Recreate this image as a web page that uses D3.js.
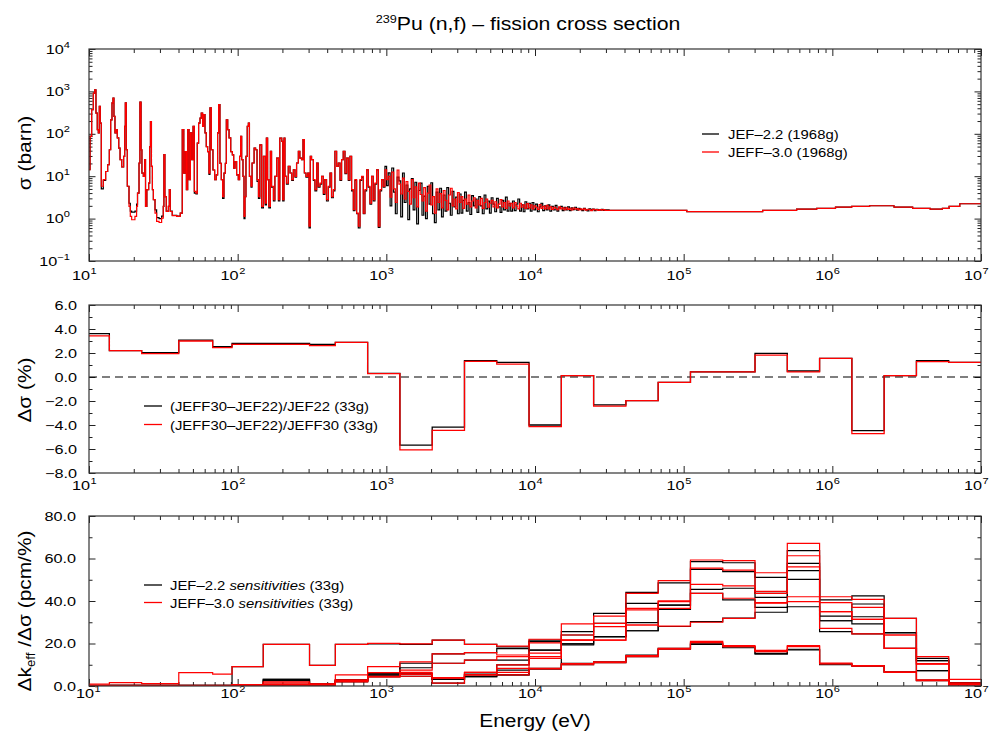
<!DOCTYPE html>
<html><head><meta charset="utf-8">
<script src="https://cdn.jsdelivr.net/npm/d3@7"></script>
<style>
body{margin:0;background:#fff}
svg{display:block}
text{font-family:"Liberation Sans",Arial,Helvetica,sans-serif;fill:#000}
</style></head>
<body><svg id="c" width="993" height="740"></svg>
<script>
// ---------- DATA ----------
// top panel: 1968-group fission cross section (step starts, eV) and values (barn)
const xsEnergy = [
10.0,10.16,10.42,10.69,10.92,11.14,11.37,11.55,11.73,11.91,
12.10,12.48,12.94,13.35,13.70,13.99,14.28,14.50,14.72,14.95,
15.20,15.50,15.85,16.18,16.60,17.10,17.38,17.55,17.82,18.10,
18.58,18.96,19.36,20.37,20.90,21.20,21.70,22.00,22.40,22.70,
23.2,23.7,24.0,24.5,25.2,25.6,25.9,26.3,26.7,27.1,
27.8,28.5,29.6,30.8,31.6,31.9,32.4,33.1,34.2,34.7,
35.2,36.3,38.9,41.1,42.4,43.4,44.3,45.2,46.1,47.1,
48.1,49.1,50.1,51.1,52.4,53.5,54.6,55.8,56.9,58.1,
59.0,60.3,61.5,62.8,64.1,65.1,66.5,68.2,70.0,71.8,
73.3,74.4,76.0,77.6,79.2,80.9,82.6,83.9,85.7,87.5,
89.8,92.1,94.0,96.0,98.4,101,103,104.7,106.4,108.6,
110.3,112,113.7,116,118,120,123,125,129,132,
135,138,141,145,149,153,156,159,162,166,
169,174,178,183,188,192,198,201,205,208,
213,219,225,231,237,243,249,256,262,269,
275,281,288,296,302,308,314,323,331,340,
348,358,367,377,386,396,407,418,428,440,
451,463,475,488,500,513,527,541,555,569,
584,600,615,631,648,665,682,700,718,737,
756,776,796,817,838,860,883,906,929,953,
979,1004,
1030,1060,1088,1120,1150,1182,1215,1250,1285,1320,
1357,1395,1434,1474,1515,1557,1600,1645,1690,1737,
1785,1835,1886,1939,1993,2048,2105,2164,2224,2286,
2350,2415,2483,2552,2623,2696,2771,2848,2928,3009,
3093,3180,3268,3360,3453,3549,3648,3750,3855,3962,
4073,4186,4303,4423,4547,4673,4804,4938,5075,5217,
5362,5512,5666,5824,5986,6153,6325,6501,6683,6869,
7061,7258,7460,7668,7882,8102,8328,8560,8799,9044,
9297,9556,9822,10100,10380,10670,10970,11270,11590,11910,
12240,12580,12930,13290,13670,14050,14440,14840,15250,15680,
16120,16570,17030,17500,17990,18490,19010,19540,20090,20650,
21220,21810,22420,23050,23690,24350,25030,25730,26450,27180,
27940,28720,29520,31500,105000,340000,575000,785000,
1050000,1350000,1780000,2600000,3470000,4550000,5500000,6100000,7200000,10000000];

const xsJEFF30 = [
14.2,87,372,912,1090,309,126,105,447,178,
5.8,8.3,12.9,18.6,42,214,537,697,257,105,
126,80,46,24.5,16.5,29.5,150,537,42,5.8,
1.94,1.13,0.94,1.13,1.94,4.0,20.3,562,42,11.8,
9.9,24.5,1.94,4.8,6.9,50,195,17,4.8,2.8,
1.35,0.86,0.81,1.03,1.94,32.5,3.3,1.47,1.94,4.8,
1.47,1.17,1.13,1.35,126,11.8,38,4.8,126,8.3,
105,24.5,150,4.4,4.0,60,178,234,309,150,
282,105,50,38,11.8,407,42,14,8.3,10.8,
105,490,20,8.3,3.3,11.8,20,214,126,80,
38,32,15.5,22,10.8,8.3,29.5,87,24.5,9.9,
1.13,3.3,29.5,150,179,9.9,5.8,20.5,46,42,
8.3,3.3,55,1.95,29.4,2.3,79,8.3,1.95,38.5,
5.8,2.8,9.9,26.8,2.8,79,66,2.8,79,9.9,
6.9,17.1,11.9,8.3,14.2,9.9,20.5,38.5,26.8,24.5,
73,11.9,9.9,11.9,0.66,29.4,24.5,8.3,4.8,20.5,
5.8,6.9,9.9,4.0,8.3,2.8,5.8,11.9,3.3,4.8,
38.5,17.1,20.5,8.3,24.5,38.5,11.9,26.8,8.3,29.4,
4.8,1.62,8.3,1.35,0.66,8.3,9.9,1.35,4.8,14.2,
5.8,2.3,9.9,2.8,6.9,14.2,0.66,4.8,8.3,5.8,
14.2,8.3,
9.9,3.2,12.5,5.0,2.4,14.0,6.5,3.8,9.0,2.9,
7.5,4.4,2.2,8.3,3.1,5.6,1.9,6.9,3.7,2.6,
5.4,1.5,4.0,6.2,2.1,3.3,1.35,5.0,2.4,3.9,
1.8,4.6,2.7,1.6,3.6,5.2,2.0,2.9,1.7,4.1,
2.4,3.3,1.75,2.9,2.2,3.6,1.9,2.6,3.1,1.8,
2.7,2.1,3.0,1.75,2.4,2.9,1.85,2.3,2.7,1.9,
2.5,1.8,2.2,2.8,1.9,2.4,1.75,2.6,2.0,2.3,
1.8,2.4,2.0,1.7,2.3,1.85,2.1,1.75,2.25,1.8,
2.1,1.7,2.0,1.85,1.65,2.15,1.75,1.95,1.7,2.05,
1.7,1.9,1.65,1.85,1.75,1.62,1.9,1.7,1.8,1.62,
1.8,1.65,1.75,1.6,1.78,1.66,1.72,1.6,1.7,1.62,
1.7,1.58,1.66,1.62,1.55,1.65,1.6,1.63,1.57,1.62,
1.58,1.62,1.57,1.56,1.46,1.56,1.68,1.74,
1.87,1.94,2.01,1.87,1.74,1.68,1.74,1.94,2.24,2.24];

const xsJEF22 = [
14.2,87,372,912,1090,309,126,105,447,178,
5.0,8.0,12.9,18.6,42,214,537,697,257,105,
126,80,46,24.5,16.5,29.5,150,537,42,5.8,
2.3,1.5,1.42,1.5,2.2,4.0,20.3,562,42,11.8,
9.9,24.5,1.94,4.8,6.9,50,195,17,4.8,2.8,
1.6,1.05,1.0,1.15,1.94,32.5,3.3,1.5,1.94,4.8,
1.5,1.2,1.15,1.35,126,11.8,38,4.8,126,8.3,
105,24.5,150,4.0,3.8,60,178,234,309,150,
282,105,50,38,11.0,407,42,14,8.3,10.8,
105,490,20,8.3,3.0,11.8,20,214,126,80,
38,32,15.5,22,10.8,8.3,29.5,87,24.5,9.9,
1.0,3.3,29.5,150,179,9.9,5.5,20.5,46,42,
7.5,3.0,55,1.8,29.4,2.1,79,8.3,1.8,38.5,
5.5,2.6,9.9,26.8,2.6,79,66,2.6,79,9.9,
6.5,17.1,11.9,8.0,14.2,9.5,20.5,38.5,26.8,24.5,
73,11.9,9.5,11.9,0.6,29.4,24.5,8.0,4.5,20.5,
5.5,6.5,9.9,3.7,8.3,2.6,5.5,11.9,3.1,4.5,
38.5,17.1,20.5,8.0,24.5,38.5,11.5,26.8,8.0,29.4,
4.5,1.55,8.0,1.3,0.6,8.0,9.5,1.3,4.5,14.2,
5.5,2.2,9.9,2.6,6.5,14.2,0.62,4.5,8.3,5.5,
17,6.0,
12.0,2.0,15.6,4.2,1.3,9.5,7.8,1.1,11.9,2.4,
6.2,0.95,5.0,8.8,1.6,7.2,0.75,4.6,6.9,1.2,
3.4,1.0,5.8,2.2,7.0,1.3,0.8,4.2,1.6,5.2,
1.1,3.6,1.5,5.4,2.3,1.2,4.4,1.9,3.2,1.3,
3.8,1.35,2.7,4.2,1.5,2.4,1.25,3.5,2.0,2.9,
1.4,3.3,2.0,1.3,3.6,1.7,2.6,1.35,3.1,2.2,
1.45,3.0,1.9,1.4,2.7,1.6,3.2,1.5,2.3,1.5,
2.6,1.55,2.2,2.9,1.5,2.1,1.45,2.5,1.7,2.3,
1.5,2.4,1.6,2.2,1.45,1.9,2.3,1.55,2.0,1.6,
2.1,1.5,1.95,1.6,2.05,1.5,1.8,1.95,1.55,1.85,
1.6,1.9,1.55,1.8,1.62,1.85,1.58,1.75,1.65,1.55,
1.75,1.6,1.52,1.7,1.6,1.68,1.55,1.66,1.6,1.58,
1.65,1.56,1.6,1.56,1.46,1.56,1.68,1.74,
1.87,1.94,2.01,1.87,1.74,1.68,1.74,1.94,2.24,2.24];

// 33-group boundaries (eV) from 10 eV to 10 MeV
const groupBounds = [10,13.71,22.603,40.169,67.904,91.661,148.63,304.325,453.999,748.518,
1234.1,2034.68,3354.63,5530.84,9118.82,15034.4,24787.5,40867.7,67379.5,111090,
183156,301974,497871,820850,1353350,2231300,3678790,6065310,1e7];

// middle panel: relative difference (%)
const diffJEF22  = [3.61,2.19,2.03,3.08,2.53,2.81,2.81,2.72,2.89,0.30,-5.67,-4.17,1.36,1.22,-4.0,0.11,-2.33,-1.97,-0.44,0.42,0.42,1.97,0.5,1.56,-4.47,0.11,1.36,1.22];
const diffJEFF30 = [3.42,2.19,1.94,3.0,2.44,2.72,2.72,2.61,2.89,0.28,-6.08,-4.44,1.3,1.08,-4.14,0.11,-2.42,-1.97,-0.44,0.42,0.42,1.83,0.42,1.56,-4.72,0.11,1.28,1.22];

// bottom panel: sensitivity profiles (pcm/%), several benchmarks
const sensA_JEF22  = [0.3,0.4,0.4,0.3,0.3,9.1,19.6,9.7,19.6,19.8,19.6,21.6,19.6,18.4,21.6,25.6,34.2,44.1,48.5,58.5,58.0,51.1,63.7,40.5,42.4,31.8,13.0,1.6];
const sensA_JEFF30 = [0.9,1.6,1.1,6.3,5.6,9.1,19.6,9.7,19.6,20.1,19.8,21.6,19.6,18.8,22.0,29.2,32.9,43.6,49.6,59.3,59.0,53.3,67.1,42.0,40.8,31.8,13.8,3.1];
const sensB_JEF22  = [0,0,0,0,0,0.7,0.8,0.9,2.8,5.7,10.7,15.1,15.7,17.6,16.9,24.0,29.5,38.9,38.1,45.5,46.0,41.7,57.7,32.9,38.6,25.1,11.9,1.6];
const sensB_JEFF30 = [0,0,0,0,0,0.7,0.8,0.9,5.2,9.1,11.4,15.1,15.7,14.6,15.5,24.0,29.5,36.5,39.7,47.8,47.1,43.6,61.3,39.2,37.0,24.0,10.4,1.5];
const sensC_JEF22  = [0,0,0,0,0,0.3,3.1,0.9,2.8,5.7,8.6,10.7,12.2,12.2,20.9,19.8,23.2,29.8,36.0,54.9,53.8,43.6,54.3,30.7,32.6,25.1,11.9,1.0];
const sensC_JEFF30 = [0,0,0,0,0,0.3,2.0,0.9,2.8,6.3,7.5,10.7,12.2,13.8,20.3,21.6,21.6,28.7,36.5,55.5,54.5,44.5,56.1,35.0,31.4,24.0,10.4,0.8];
const sensD_JEF22  = [0,0,0,0,0,0.3,0.5,0.5,2.0,4.4,5.6,3.1,5.6,9.9,16.9,19.8,23.2,26.0,38.1,43.6,40.5,37.0,50.2,30.7,29.2,25.1,7.2,0.5];
const sensD_JEFF30 = [0,0,0,0,0,0.3,0.5,0.5,2.0,4.4,6.4,3.8,6.4,9.9,13.8,21.6,27.9,35.8,40.1,43.6,41.3,39.2,42.0,35.0,31.4,17.7,10.4,0.5];
const sensE_JEF22  = [0,0,0,0,0,0.3,0.5,0.5,2.0,4.4,5.6,3.1,4.4,7.5,8.3,19.3,23.2,26.0,28.0,30.3,32.0,34.7,37.3,25.6,24.5,17.7,7.2,0.6];
const sensE_JEFF30 = [0,0,0,0,0,0.3,0.5,0.5,2.0,4.4,5.6,3.8,5.2,8.3,13.0,21.6,21.6,28.7,28.2,30.0,31.8,39.0,39.7,27.1,24.5,17.7,2.8,0.6];
const sensF_JEF22  = [0.2,0.2,0.2,0.3,0.3,0.7,3.1,0.9,2.8,5.2,5.6,3.1,4.4,5.2,8.0,10.7,11.4,14.5,17.7,19.6,18.5,15.4,17.3,10.4,9.6,6.7,2.8,1.0];
const sensF_JEFF30 = [0.3,0.3,0.3,0.3,0.3,0.7,0.8,0.9,2.8,4.4,5.6,3.8,6.4,6.4,8.3,10.5,11.4,14.3,17.7,20.4,18.5,16.2,18.5,10.4,9.6,6.7,2.8,1.0];
const sensG_JEF22  = [0,0,0,0,0,0.3,2.5,0.6,2.4,4.8,4.6,1.4,5.2,5.2,8.0,10.0,11.0,13.8,17.3,19.8,18.0,15.0,17.0,10.0,9.3,6.4,2.5,0.8];
const sensG_JEFF30 = [0,0,0,0,0,0.3,1.5,0.6,2.4,4.6,4.6,1.4,5.2,5.2,8.0,10.0,11.0,13.8,17.3,21.0,19.0,16.8,19.0,10.8,9.3,6.4,2.5,0.8];
const sensJEF22  = [sensA_JEF22,sensB_JEF22,sensC_JEF22,sensD_JEF22,sensE_JEF22,sensF_JEF22,sensG_JEF22];
const sensJEFF30 = [sensA_JEFF30,sensB_JEFF30,sensC_JEFF30,sensD_JEFF30,sensE_JEFF30,sensF_JEFF30,sensG_JEFF30];

const decades = [1,2,3,4,5,6,7];
const topExps = [4,3,2,1,0,-1];
const midTicks = [6,4,2,0,-2,-4,-6,-8];
const botTicks = [0,20,40,60,80];

// ---------- DRAW ----------
const svg = d3.select('#c');
const X0 = 89, X1 = 981;
const x = d3.scaleLog().domain([10,1e7]).range([X0,X1]);
const P = {
  top: {t:49, b:261},
  mid: {t:305, b:473},
  bot: {t:516, b:686}
};
const yTop = d3.scaleLog().domain([0.1,1e4]).range([P.top.b,P.top.t]);
const yMid = d3.scaleLinear().domain([-8,6]).range([P.mid.b,P.mid.t]);
const yBot = d3.scaleLinear().domain([0,80]).range([P.bot.b,P.bot.t]);
const TXT = 1.3; // horizontal stretch of tick labels

function stext(parent, tx, ty, size, sx, anchor, rot) {
  return parent.append('text')
    .attr('transform', `translate(${tx},${ty})` + (rot ? ` rotate(${rot})` : '') + ` scale(${sx},1)`)
    .attr('font-size', size).attr('text-anchor', anchor || 'start');
}

const defs = svg.append('defs');
Object.entries(P).forEach(([k,p]) => {
  defs.append('clipPath').attr('id','clip-'+k).append('rect')
    .attr('x',X0).attr('y',p.t).attr('width',X1-X0).attr('height',p.b-p.t);
});

function xAxes(p, baseline, firstShift) {
  const minor = x.ticks().filter(v => Math.abs(Math.log10(v) - Math.round(Math.log10(v))) > 1e-6);
  const major = decades.map(d => Math.pow(10,d));
  const g = svg.append('g').attr('color','#222');
  [[minor,4],[major,7]].forEach(([vals,len]) => {
    g.append('g').attr('transform',`translate(0,${p.b})`)
      .call(d3.axisBottom(x).tickValues(vals).tickSize(-len).tickFormat(()=>''))
      .call(s => s.select('.domain').remove());
    g.append('g').attr('transform',`translate(0,${p.t})`)
      .call(d3.axisTop(x).tickValues(vals).tickSize(-len).tickFormat(()=>''))
      .call(s => s.select('.domain').remove());
  });
  decades.forEach(d => {
    const xx = x(Math.pow(10,d)) + (d === 1 ? (firstShift || 0) : 0);
    stext(svg, xx+1, baseline, 12.5, TXT, 'end').text('10');
    stext(svg, xx+1.5, baseline-6, 8.5, TXT, 'start').text(String(d));
  });
}

function yAxes(p, scale, major, minor) {
  const g = svg.append('g').attr('color','#222');
  [[minor,3.5],[major,6.5]].forEach(([vals,len]) => {
    g.append('g').attr('transform',`translate(${X0},0)`)
      .call(d3.axisLeft(scale).tickValues(vals).tickSize(-len).tickFormat(()=>''))
      .call(s => s.select('.domain').remove());
    g.append('g').attr('transform',`translate(${X1},0)`)
      .call(d3.axisRight(scale).tickValues(vals).tickSize(-len).tickFormat(()=>''))
      .call(s => s.select('.domain').remove());
  });
}

function frame(p) {
  svg.append('rect').attr('x',X0).attr('y',p.t).attr('width',X1-X0).attr('height',p.b-p.t)
    .attr('fill','none').attr('stroke','#333').attr('stroke-width',1.2);
}

// ---- Top panel ----
{
  const p = P.top;
  const minor = yTop.ticks().filter(v => Math.abs(Math.log10(v) - Math.round(Math.log10(v))) > 1e-6);
  const major = topExps.map(e => Math.pow(10,e));
  yAxes(p, yTop, major, minor);
  xAxes(p, 280, 0);
  topExps.forEach(e => {
    const t = stext(svg, 70, yTop(Math.pow(10,e))+4.5, 12.5, TXT, 'end');
    t.append('tspan').text('10');
    t.append('tspan').attr('font-size',8.5).attr('dy',-6).text(e < 0 ? '\u2212' + (-e) : String(e));
  });
  const line = d3.line().x(d => x(d[0])).y(d => yTop(d[1])).curve(d3.curveStepAfter);
  const g = svg.append('g').attr('clip-path','url(#clip-top)');
  const blk = xsEnergy.map((e,i) => [e, xsJEF22[i]]);
  const red = xsEnergy.map((e,i) => [e, xsJEFF30[i]]);
  g.append('path').attr('d', line(blk)).attr('fill','none').attr('stroke','#000').attr('stroke-width',1.2);
  g.append('path').attr('d', line(red)).attr('fill','none').attr('stroke','#ff0000').attr('stroke-width',1.2);
  frame(p);
  // legend
  [['JEF\u20132.2 (1968g)','#000',134],['JEFF\u20133.0 (1968g)','#ff0000',152]].forEach(([lab,c,yy]) => {
    svg.append('line').attr('x1',702).attr('x2',719).attr('y1',yy).attr('y2',yy).attr('stroke',c).attr('stroke-width',1.3);
    stext(svg, 728, yy+5, 13.5, 1.1, 'start').text(lab);
  });
  stext(svg, 31, 153, 19, 1.1, 'middle', -90).text('\u03c3 (barn)');
}

// ---- Middle panel ----
{
  const p = P.mid;
  const minor = d3.range(-7,6,2);
  yAxes(p, yMid, midTicks, minor);
  xAxes(p, 490, 0);
  midTicks.forEach(v => {
    stext(svg, 77, yMid(v)+4.5, 12.5, TXT, 'end').text((v < 0 ? '\u2212' : '') + Math.abs(v).toFixed(1));
  });
  svg.append('line').attr('x1',X0).attr('x2',X1).attr('y1',yMid(0)).attr('y2',yMid(0))
    .attr('stroke','#000').attr('stroke-width',1.2).attr('stroke-dasharray','8,5');
  const line = d3.line().x(d => x(d[0])).y(d => yMid(d[1])).curve(d3.curveStepAfter);
  const mk = arr => groupBounds.map((e,i) => [e, arr[Math.min(i, arr.length-1)]]);
  const g = svg.append('g').attr('clip-path','url(#clip-mid)');
  g.append('path').attr('d', line(mk(diffJEF22))).attr('fill','none').attr('stroke','#000').attr('stroke-width',1.3);
  g.append('path').attr('d', line(mk(diffJEFF30))).attr('fill','none').attr('stroke','#ff0000').attr('stroke-width',1.3);
  frame(p);
  [['(JEFF30\u2013JEF22)/JEF22 (33g)','#000',406],['(JEFF30\u2013JEF22)/JEFF30 (33g)','#ff0000',424.5]].forEach(([lab,c,yy]) => {
    svg.append('line').attr('x1',144).attr('x2',162).attr('y1',yy).attr('y2',yy).attr('stroke',c).attr('stroke-width',1.3);
    stext(svg, 170, yy+5, 13.5, 1.1, 'start').text(lab);
  });
  stext(svg, 31, 390, 19, 1.1, 'middle', -90).text('\u0394\u03c3 (%)');
}

// ---- Bottom panel ----
{
  const p = P.bot;
  const minor = [10,30,50,70];
  yAxes(p, yBot, botTicks, minor);
  xAxes(p, 698, 4);
  botTicks.forEach(v => {
    stext(svg, 76, yBot(v)+4.5, 12.5, TXT, 'end').text(v.toFixed(1));
  });
  const line = d3.line().x(d => x(d[0])).y(d => yBot(d[1])).curve(d3.curveStepAfter);
  const mk = arr => groupBounds.map((e,i) => [e, arr[Math.min(i, arr.length-1)]]);
  const g = svg.append('g').attr('clip-path','url(#clip-bot)');
  sensJEF22.forEach(arr => g.append('path').attr('d', line(mk(arr))).attr('fill','none').attr('stroke','#000').attr('stroke-width',1.2));
  sensJEFF30.forEach(arr => g.append('path').attr('d', line(mk(arr))).attr('fill','none').attr('stroke','#ff0000').attr('stroke-width',1.2));
  frame(p);
  [['JEF\u20132.2 ','#000',585],['JEFF\u20133.0 ','#ff0000',602.5]].forEach(([lab,c,yy]) => {
    svg.append('line').attr('x1',144).attr('x2',162).attr('y1',yy).attr('y2',yy).attr('stroke',c).attr('stroke-width',1.3);
    const t = stext(svg, 170, yy+5, 13.5, 1.1, 'start');
    t.append('tspan').text(lab);
    t.append('tspan').attr('font-style','italic').text('sensitivities');
    t.append('tspan').text(' (33g)');
  });
  const t = stext(svg, 31, 611, 19, 1.1, 'middle', -90);
  t.append('tspan').text('\u0394k');
  t.append('tspan').attr('font-size',12).attr('dy',4).text('eff');
  t.append('tspan').attr('dy',-4).text(' /\u0394\u03c3 (pcm/%)');
  stext(svg, 535, 727, 19, 1.1, 'middle').text('Energy (eV)');
}

// ---- Title ----
{
  const t = stext(svg, 528, 30, 18.5, 1.15, 'middle');
  t.append('tspan').attr('font-size',11).attr('dy',-7).text('239');
  t.append('tspan').attr('dy',7).text('Pu (n,f) \u2013 fission cross section');
}
</script></body></html>
